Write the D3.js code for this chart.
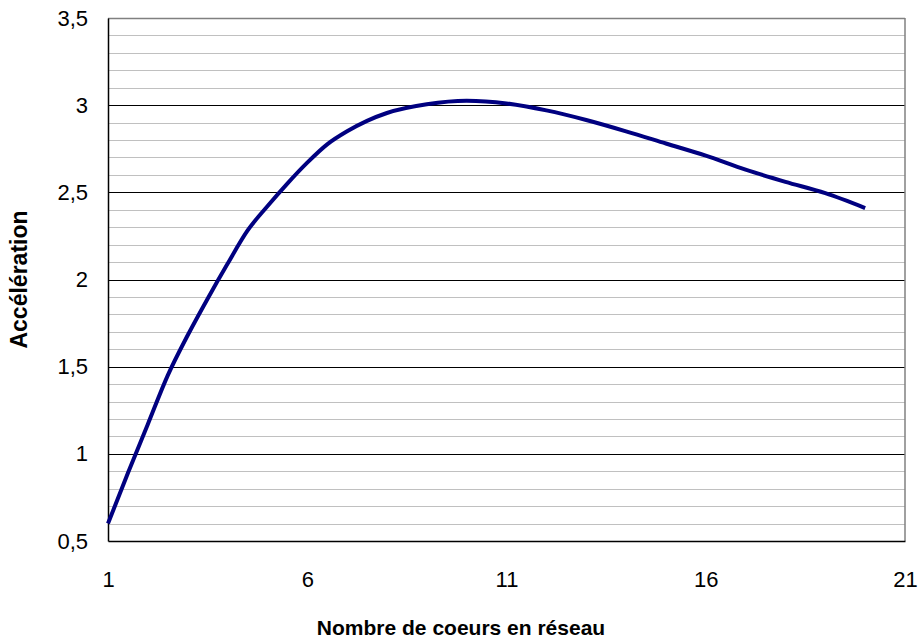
<!DOCTYPE html>
<html>
<head>
<meta charset="utf-8">
<script src="https://cdn.jsdelivr.net/npm/d3@7"></script>
<style>
  html, body { margin: 0; padding: 0; background: #fff; }
  svg { display: block; }
  text { font-family: Arial, "Liberation Sans", sans-serif; fill: #000; }
</style>
</head>
<body>
<svg id="chart" width="920" height="638"></svg>
<script>
const coresX = [1, 1.5, 2, 2.5, 3, 3.5, 4, 4.5, 5, 5.5, 6, 6.5, 7, 7.5, 8, 9, 10, 11, 12, 13, 14, 15, 16, 17, 18, 19, 20];
const accelY = [0.60, 0.89, 1.17, 1.45, 1.68, 1.89, 2.09, 2.28, 2.42, 2.55, 2.67, 2.775, 2.85, 2.91, 2.955, 3.005, 3.025, 3.01, 2.97, 2.915, 2.85, 2.78, 2.71, 2.63, 2.56, 2.495, 2.41];
const xTicks = [1, 6, 11, 16, 21];
const yTicks = [0.5, 1, 1.5, 2, 2.5, 3, 3.5];
const xTitle = "Nombre de coeurs en réseau";
const yTitle = "Accélération";

const svg = d3.select("#chart");
const L = 108, R = 905, T = 18, B = 541;

const x = d3.scaleLinear().domain([1, 21]).range([L, R]);
const y = d3.scaleLinear().domain([0.5, 3.5]).range([B, T]);

// minor gridlines
const minor = d3.range(6, 35).map(d => d / 10).filter(v => Math.abs(v * 2 - Math.round(v * 2)) > 1e-6);
svg.append("g").selectAll("line").data(minor).join("line")
  .attr("x1", L).attr("x2", R)
  .attr("y1", d => Math.round(y(d)) + 0.5).attr("y2", d => Math.round(y(d)) + 0.5)
  .attr("stroke", "#c0c0c0").attr("stroke-width", 1);

// major gridlines
svg.append("g").selectAll("line").data(yTicks.slice(1, -1)).join("line")
  .attr("x1", L).attr("x2", R)
  .attr("y1", d => Math.round(y(d)) + 0.5).attr("y2", d => Math.round(y(d)) + 0.5)
  .attr("stroke", "#000").attr("stroke-width", 1);

// plot border (top/right gray)
svg.append("line").attr("x1", L).attr("x2", R).attr("y1", T + 0.5).attr("y2", T + 0.5)
  .attr("stroke", "#808080").attr("stroke-width", 1.5);
svg.append("line").attr("x1", R).attr("x2", R).attr("y1", T).attr("y2", B)
  .attr("stroke", "#808080").attr("stroke-width", 1.5);

// axes
const xAxis = d3.axisBottom(x).tickValues(xTicks).tickSize(0).tickPadding(30).tickFormat(d3.format("d"));
const gx = svg.append("g").attr("transform", `translate(0,${B})`).call(xAxis);
gx.select(".domain").attr("stroke", "#000").attr("stroke-width", 1.5);
gx.selectAll("text").attr("font-size", 22).attr("font-family", "Arial, 'Liberation Sans', sans-serif");

const fr = d3.formatLocale({decimal: ",", thousands: " ", grouping: [3], currency: ["", ""]});
const yAxis = d3.axisLeft(y).tickValues(yTicks).tickSize(0).tickPadding(20).tickFormat(d => fr.format("~g")(d));
const gy = svg.append("g").attr("transform", `translate(${L},0)`).call(yAxis);
gy.select(".domain").attr("stroke", "#000").attr("stroke-width", 1.5);
gy.selectAll("text").attr("font-size", 22).attr("font-family", "Arial, 'Liberation Sans', sans-serif");

// line
const line = d3.line().x((d, i) => x(coresX[i])).y(d => y(d)).curve(d3.curveMonotoneX);
svg.append("path").datum(accelY)
  .attr("d", line).attr("fill", "none")
  .attr("stroke", "#000080").attr("stroke-width", 4)
  .attr("stroke-linejoin", "round");

// titles
svg.append("text").attr("x", 461).attr("y", 635)
  .attr("text-anchor", "middle").attr("font-size", 21).attr("font-weight", "bold")
  .text(xTitle);
svg.append("text").attr("transform", `translate(27,${(T + B) / 2}) rotate(-90)`)
  .attr("text-anchor", "middle").attr("font-size", 23).attr("font-weight", "bold")
  .text(yTitle);
</script>
</body>
</html>
